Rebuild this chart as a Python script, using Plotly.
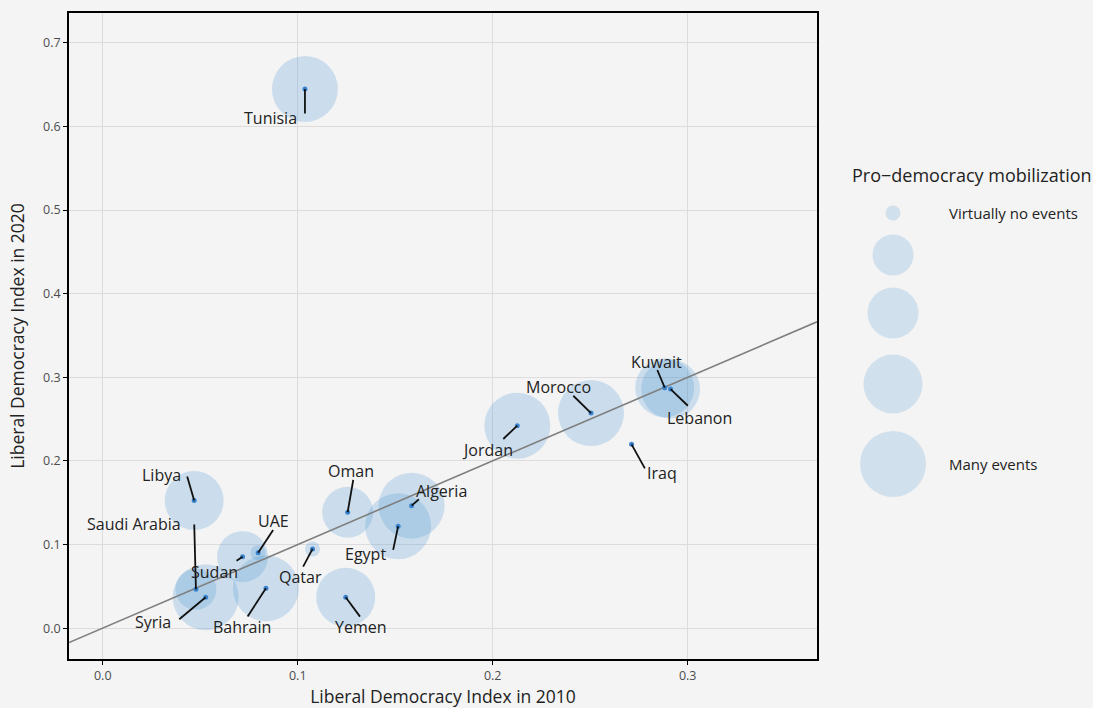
import plotly.graph_objects as go

# data
countries = ["Tunisia", "Libya", "Saudi Arabia", "Sudan", "UAE", "Qatar", "Syria",
             "Bahrain", "Oman", "Yemen", "Egypt", "Algeria", "Jordan", "Morocco",
             "Kuwait", "Lebanon", "Iraq"]
ldi_2010 = [0.1037, 0.0469, 0.0478, 0.0717, 0.0797, 0.1076, 0.0528,
            0.0837, 0.1256, 0.1246, 0.1515, 0.1584, 0.2126, 0.2504,
            0.2882, 0.2912, 0.2712]
ldi_2020 = [0.6447, 0.1525, 0.0465, 0.0855, 0.0903, 0.0947, 0.0370,
            0.0478, 0.1386, 0.0370, 0.1219, 0.1465, 0.2421, 0.2572,
            0.2875, 0.2859, 0.2198]
# mobilization level 1 (virtually no events) .. 5 (many events); None = no data
mobilization = [5, 4, 2, 3, 1, 1, 5, 5, 3, 4, 5, 5, 5, 5, 4, 4, None]
legend_levels = [1, 2, 3, 4, 5]
legend_labels = ["Virtually no events", "", "", "", "Many events"]

# reference line y = x
ref_slope = 1.0
ref_intercept = 0.0

# styling / layout
size_px = {1: 15, 2: 41, 3: 51, 4: 59, 5: 66}
bubble_color = "rgba(70,145,212,0.33)"
dot_color = "#3a84cf"
bg = "#f4f4f4"
font_family = "Open Sans"
x_range = [-0.0173, 0.3663]
y_range = [-0.0369, 0.7356]

# pixel offsets: label text centre and leader segment end, relative to the dot
label_offset = {
    "Tunisia": (-34, 29), "Libya": (-33, -26), "Saudi Arabia": (-62, -65),
    "Sudan": (-28, 15), "UAE": (15, -32), "Qatar": (-12, 28), "Syria": (-53, 25),
    "Bahrain": (-24, 39), "Oman": (3, -41), "Yemen": (15, 30), "Egypt": (-33, 28),
    "Algeria": (30, -15), "Jordan": (-30, 24), "Morocco": (-33, -26),
    "Kuwait": (-8, -26), "Lebanon": (29, 29), "Iraq": (30, 29),
}
segment_end = {
    "Tunisia": (0, 24.6), "Libya": (-7, -24), "Saudi Arabia": (-1.7, -64.7),
    "Sudan": (-6, 4), "UAE": (15, -22.7), "Qatar": (-9.4, 17.7), "Syria": (-26.4, 22),
    "Bahrain": (-18.3, 28.4), "Oman": (5.6, -32.3), "Yemen": (14.3, 19.4),
    "Egypt": (-5, 23.7), "Algeria": (7.3, -6.4), "Jordan": (-14, 13.3),
    "Morocco": (-17.7, -17.3), "Kuwait": (-7.4, -17.7), "Lebanon": (17.3, 16.7),
    "Iraq": (13.3, 24),
}

# legend placement, in page pixels (legend axes are laid out in pixels)
legend_x = 893
legend_y = [213, 255, 313, 384, 464]
legend_text_x = 947

fig = go.Figure()

# bubbles
bx = [x for x, m in zip(ldi_2010, mobilization) if m is not None]
by = [y for y, m in zip(ldi_2020, mobilization) if m is not None]
bs = [size_px[m] for m in mobilization if m is not None]
fig.add_trace(go.Scatter(
    x=bx, y=by, mode="markers",
    marker=dict(size=bs, color=bubble_color, line=dict(width=0)),
    hoverinfo="skip", showlegend=False,
))

# y = x line across the panel
fig.add_trace(go.Scatter(
    x=x_range,
    y=[ref_intercept + ref_slope * v for v in x_range],
    mode="lines", line=dict(color="#7f7f7f", width=1.6),
    hoverinfo="skip", showlegend=False,
))

# country dots
fig.add_trace(go.Scatter(
    x=ldi_2010, y=ldi_2020, mode="markers",
    marker=dict(size=5, color=dot_color, line=dict(width=0)),
    text=countries, hoverinfo="text", showlegend=False,
))

# leader segments and labels
shapes = []
annotations = []
for name, x, y in zip(countries, ldi_2010, ldi_2020):
    sx, sy = segment_end[name]
    shapes.append(dict(
        type="line", xref="x", yref="y",
        xsizemode="pixel", ysizemode="pixel",
        xanchor=x, yanchor=y, x0=0, y0=0, x1=sx, y1=-sy,
        line=dict(color="#111111", width=1.8), layer="above",
    ))
    lx, ly = label_offset[name]
    annotations.append(dict(
        x=x, y=y, xref="x", yref="y", text=name, showarrow=False,
        xshift=lx, yshift=-ly, xanchor="center", yanchor="middle",
        font=dict(family=font_family, size=16, color="#222222"),
    ))

# size legend
fig.add_trace(go.Scatter(
    x=[legend_x] * len(legend_levels), y=legend_y,
    xaxis="x2", yaxis="y2", mode="markers",
    marker=dict(size=[size_px[l] for l in legend_levels],
                color="#c2d7ea", line=dict(width=0)),
    hoverinfo="skip", showlegend=False,
))
annotations.append(dict(
    x=850, y=175, xref="x2", yref="y2", text="Pro\u2212democracy mobilization",
    showarrow=False, xanchor="left", yanchor="middle",
    font=dict(family=font_family, size=18, color="#222222"),
))
for lbl, yy in zip(legend_labels, legend_y):
    if lbl:
        annotations.append(dict(
            x=legend_text_x, y=yy, xref="x2", yref="y2", text=lbl,
            showarrow=False, xanchor="left", yanchor="middle",
            font=dict(family=font_family, size=15, color="#222222"),
        ))

axis_common = dict(
    showline=True, mirror=True, linecolor="black", linewidth=1.6,
    ticks="outside", ticklen=4, tickwidth=1.2, tickcolor="black",
    gridcolor="#dcdcdc", gridwidth=1.2, zeroline=False, automargin=False,
    tickfont=dict(family=font_family, size=12.5, color="#4d4d4d"),
    tickformat=".1f",
)

fig.update_layout(
    width=1093, height=708,
    margin=dict(l=69, r=10, t=13, b=49),
    paper_bgcolor=bg, plot_bgcolor=bg,
    font=dict(family=font_family),
    xaxis=dict(
        domain=[0, 748 / 1014], range=x_range, tickvals=[0, 0.1, 0.2, 0.3],
        title=dict(text="Liberal Democracy Index in 2010", standoff=11,
                   font=dict(family=font_family, size=17.5, color="#222222")),
        **axis_common,
    ),
    yaxis=dict(
        range=y_range, tickvals=[0, 0.1, 0.2, 0.3, 0.4, 0.5, 0.6, 0.7],
        title=dict(text="Liberal Democracy Index in 2020", standoff=14,
                   font=dict(family=font_family, size=17.5, color="#222222")),
        **axis_common,
    ),
    xaxis2=dict(domain=[760 / 1014, 1], range=[829, 1083],
                visible=False, anchor="y2", fixedrange=True),
    yaxis2=dict(domain=[0, 1], range=[659, 13],
                visible=False, anchor="x2", fixedrange=True),
    shapes=shapes,
    annotations=annotations,
    showlegend=False,
)

fig.write_html("out.html", config={"displayModeBar": False},
               post_script="document.body.style.margin='0';")
